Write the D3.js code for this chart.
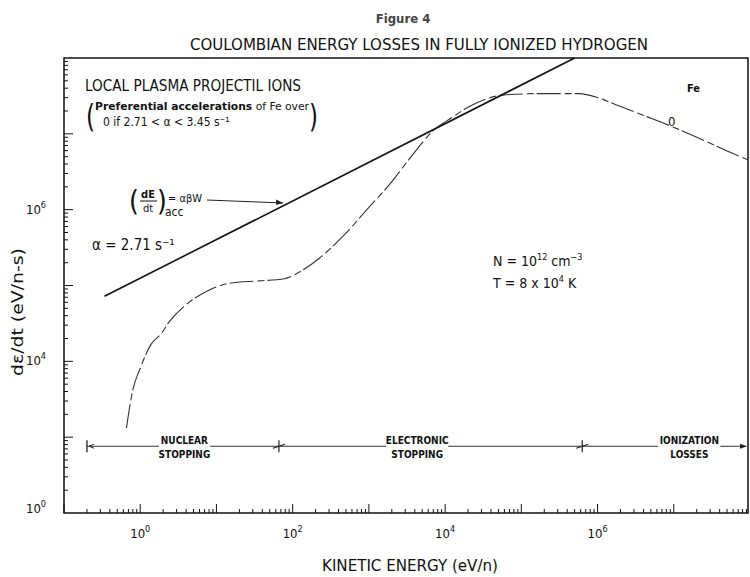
<!DOCTYPE html>
<html>
<head>
<meta charset="utf-8">
<script src="https://cdn.jsdelivr.net/npm/d3@7"></script>
<style>
body { margin: 0; background: #fff; }
text { font-family: "Liberation Sans Narrow", "DejaVu Sans Condensed", "Liberation Sans", sans-serif; fill: #111; }
</style>
</head>
<body>
<div id="chart"></div>
<script>
// energy loss curve (eV/n , eV/n-s)
const energy = [0.66, 0.79, 1.02, 1.38, 1.9, 2.4, 4.4, 8.1, 14.8, 36, 78, 123, 224, 479, 1020, 1860,
    3720, 6760, 12000, 20900, 34700, 56200, 174000, 575000, 1.05e6, 1.78e6, 4.07e6, 8.7e6, 2.4e7, 5.4e7, 9.3e7];
const dedt = [1320, 3980, 8510, 16600, 23400, 33100, 60300, 87100, 107000, 115000, 123000, 151000, 229000,
    468000, 1.10e6, 2.14e6, 5.25e6, 1.07e7, 1.62e7, 2.29e7, 2.88e7, 3.24e7, 3.39e7, 3.39e7, 2.95e7, 2.40e7,
    1.74e7, 1.29e7, 8.3e6, 5.75e6, 4.57e6];

// acceleration gain line (dE/dt)acc = a b W
const accE = [0.34, 5.0e5];
const accV = [7.2e4, 1.0e8];

// stopping regimes
const regimeEdges = [0.2, 66, 6.3e5, 1e8];
const regimeNames = [["NUCLEAR", "STOPPING"], ["ELECTRONIC", "STOPPING"], ["IONIZATION", "LOSSES"]];
const regimeLabelE = [3.8, 4300, 1.6e7];
const regimeLevel = 760;

const xLabelExps = [0, 2, 4, 6];
const yLabels = [[1e6, "6"], [1e4, "4"], [1e2, "0"]];

const width = 750, height = 577;
const svg = d3.select("#chart").append("svg")
    .attr("width", width)
    .attr("height", height);

const x = d3.scaleLog().domain([0.1, 1e8]).range([64, 750]);
const y = d3.scaleLog().domain([1e2, 1e8]).range([513, 58]);
const right = 748;

// frame
svg.append("path")
    .attr("d", "M" + x(0.1) + "," + y(1e8) + "H" + right + "V" + y(1e2) + "H" + x(0.1) + "Z")
    .attr("fill", "none")
    .attr("stroke", "#111")
    .attr("stroke-width", 1.5);

// ticks (inward)
let xt = [], yt = [];
for (let k = -1; k <= 7; k++) {
    for (let m = 1; m <= 9; m++) {
        xt.push([m * Math.pow(10, k), m]);
    }
}
for (let k = 2; k <= 7; k++) {
    for (let m = 1; m <= 9; m++) {
        yt.push([m * Math.pow(10, k), m]);
    }
}
svg.append("g").selectAll("line")
    .data(xt.filter(d => x(d[0]) < right - 1))
    .enter().append("line")
    .attr("x1", d => x(d[0]))
    .attr("x2", d => x(d[0]))
    .attr("y1", y(1e2))
    .attr("y2", d => y(1e2) - (d[1] === 1 ? 9 : 4))
    .attr("stroke", "#111")
    .attr("stroke-width", 1);
svg.append("g").selectAll("line")
    .data(yt.filter(d => d[0] > 1e2))
    .enter().append("line")
    .attr("x1", x(0.1))
    .attr("x2", d => x(0.1) + (d[1] === 1 ? 9 : 4))
    .attr("y1", d => y(d[0]))
    .attr("y2", d => y(d[0]))
    .attr("stroke", "#111")
    .attr("stroke-width", 1);

// tick labels
xLabelExps.forEach(function (e) {
    let t = svg.append("text")
        .attr("x", x(Math.pow(10, e)))
        .attr("y", 538)
        .attr("text-anchor", "middle")
        .style("font-size", "13px");
    t.append("tspan").text("10");
    t.append("tspan").attr("dy", -6).style("font-size", "9px").text(e);
});
yLabels.forEach(function (d) {
    let t = svg.append("text")
        .attr("x", 46)
        .attr("y", Math.min(y(d[0]) + 4, 513))
        .attr("text-anchor", "end")
        .style("font-size", "13px");
    t.append("tspan").text("10");
    t.append("tspan").attr("dy", -6).style("font-size", "9px").text(d[1]);
});

// axis titles
svg.append("text")
    .attr("x", 410).attr("y", 571)
    .attr("text-anchor", "middle")
    .attr("textLength", 176).attr("lengthAdjust", "spacingAndGlyphs")
    .style("font-size", "16px")
    .text("KINETIC ENERGY (eV/n)");
svg.append("text")
    .attr("transform", "translate(23,312) rotate(-90)")
    .attr("text-anchor", "middle")
    .attr("textLength", 128).attr("lengthAdjust", "spacingAndGlyphs")
    .style("font-size", "15px")
    .text("dε/dt (eV/n-s)");

// titles
svg.append("text")
    .attr("x", 403).attr("y", 23)
    .attr("text-anchor", "middle")
    .style("font-size", "13px").style("font-weight", "bold")
    .style("fill", "#444")
    .text("Figure 4");
svg.append("text")
    .attr("x", 419).attr("y", 50)
    .attr("text-anchor", "middle")
    .attr("textLength", 458).attr("lengthAdjust", "spacingAndGlyphs")
    .style("font-size", "16px")
    .text("COULOMBIAN ENERGY LOSSES IN FULLY IONIZED HYDROGEN");

// curves
const logLine = d3.line()
    .x(d => x(d[0]))
    .y(d => y(d[1]))
    .curve(d3.curveMonotoneX);

svg.append("path")
    .datum(energy.map((e, i) => [e, dedt[i]]))
    .attr("d", logLine)
    .attr("fill", "none")
    .attr("stroke", "#333")
    .attr("stroke-width", 1.1)
    .attr("stroke-dasharray", "24,4,7,3");

svg.append("path")
    .datum(accE.map((e, i) => [e, accV[i]]))
    .attr("d", d3.line().x(d => x(d[0])).y(d => y(d[1])))
    .attr("fill", "none")
    .attr("stroke", "#111")
    .attr("stroke-width", 1.6);

// regime bar
const barY = y(regimeLevel);
svg.append("line")
    .attr("x1", x(regimeEdges[0])).attr("x2", right - 2)
    .attr("y1", barY).attr("y2", barY)
    .attr("stroke", "#333").attr("stroke-width", 1.1);
svg.append("line")
    .attr("x1", x(regimeEdges[0])).attr("x2", x(regimeEdges[0]))
    .attr("y1", barY - 6).attr("y2", barY + 6)
    .attr("stroke", "#222").attr("stroke-width", 1.3);
svg.append("path")
    .attr("d", "M" + (x(regimeEdges[0]) + 7) + "," + (barY - 2) + "L" + (x(regimeEdges[0]) + 2) + "," + barY +
        "L" + (x(regimeEdges[0]) + 7) + "," + (barY + 2))
    .attr("fill", "none").attr("stroke", "#222");
svg.append("path")
    .attr("d", "M" + (right - 8) + "," + (barY - 2.5) + "L" + (right - 1) + "," + barY + "L" + (right - 8) + "," + (barY + 2.5))
    .attr("fill", "#222");
regimeEdges.slice(1, 3).forEach(function (e) {
    let bx = x(e);
    svg.append("path")
        .attr("d", "M" + (bx - 6) + "," + (barY + 2) + "L" + (bx + 6) + "," + (barY - 2) +
            "M" + bx + "," + (barY - 6) + "L" + bx + "," + (barY + 6))
        .attr("fill", "none").attr("stroke", "#222").attr("stroke-width", 1.2);
});
regimeNames.forEach(function (n, i) {
    let g = svg.append("g").attr("transform", "translate(" + x(regimeLabelE[i]) + "," + barY + ")");
    let w = Math.max(n[0].length, n[1].length) * 5.6 + 6;
    g.append("rect")
        .attr("x", -w / 2).attr("y", -10).attr("width", w).attr("height", 24)
        .attr("fill", "#fff");
    g.append("text").attr("y", -2).attr("text-anchor", "middle")
        .style("font-size", "10px").style("font-weight", "bold").text(n[0]);
    g.append("text").attr("y", 12).attr("text-anchor", "middle")
        .style("font-size", "10px").style("font-weight", "bold").text(n[1]);
});

// annotations
svg.append("text").attr("x", 85).attr("y", 91)
    .attr("textLength", 216).attr("lengthAdjust", "spacingAndGlyphs")
    .style("font-size", "15px").text("LOCAL PLASMA PROJECTIL IONS");
svg.append("text").attr("x", 86).attr("y", 127)
    .attr("transform", "translate(86,127) scale(0.8,1) translate(-86,-127)")
    .style("font-size", "32px").text("(");
svg.append("text").attr("x", 309).attr("y", 127)
    .attr("transform", "translate(309,127) scale(0.8,1) translate(-309,-127)")
    .style("font-size", "32px").text(")");
let pref = svg.append("text").attr("x", 95).attr("y", 110)
    .attr("textLength", 214).attr("lengthAdjust", "spacingAndGlyphs")
    .style("font-size", "11px");
pref.append("tspan").style("font-weight", "bold").text("Preferential accelerations");
pref.append("tspan").text(" of Fe over");
svg.append("text").attr("x", 103).attr("y", 126)
    .style("font-size", "12px").text("0 if 2.71 < α < 3.45  s⁻¹");

// (dE/dt)acc label and arrow
svg.append("text").attr("x", 129).attr("y", 211).style("font-size", "28px").text("(");
svg.append("text").attr("x", 148).attr("y", 198).attr("text-anchor", "middle")
    .style("font-size", "11px").style("font-weight", "bold").text("dE");
svg.append("line").attr("x1", 140).attr("x2", 157).attr("y1", 201).attr("y2", 201)
    .attr("stroke", "#111");
svg.append("text").attr("x", 148).attr("y", 212).attr("text-anchor", "middle")
    .style("font-size", "11px").text("dt");
svg.append("text").attr("x", 157).attr("y", 211).style("font-size", "28px").text(")");
svg.append("text").attr("x", 165).attr("y", 216).style("font-size", "12px").text("acc");
svg.append("text").attr("x", 168).attr("y", 202).style("font-size", "11px").text("= αβW");
svg.append("line").attr("x1", 207).attr("x2", x(75)).attr("y1", 200).attr("y2", 203)
    .attr("stroke", "#222").attr("stroke-width", 1);
svg.append("path")
    .attr("d", "M" + (x(75) - 7) + ",199.5L" + x(75) + ",203L" + (x(75) - 7) + ",205")
    .attr("fill", "#222");

svg.append("text").attr("x", 92).attr("y", 250).style("font-size", "15px").text("α = 2.71 s⁻¹");

let nt = svg.append("text").attr("x", 493).attr("y", 266).style("font-size", "14px");
nt.append("tspan").text("N = 10");
nt.append("tspan").attr("dy", -6).style("font-size", "9px").text("12");
nt.append("tspan").attr("dy", 6).text(" cm");
nt.append("tspan").attr("dy", -6).style("font-size", "9px").text("−3");
let tt = svg.append("text").attr("x", 493).attr("y", 288).style("font-size", "14px");
tt.append("tspan").text("T = 8 x 10");
tt.append("tspan").attr("dy", -6).style("font-size", "9px").text("4");
tt.append("tspan").attr("dy", 6).text(" K");

svg.append("text").attr("x", 687).attr("y", 92)
    .style("font-size", "11px").style("font-weight", "bold").text("Fe");
svg.append("text").attr("x", 668).attr("y", 126)
    .style("font-size", "13px").text("0");
</script>
</body>
</html>
